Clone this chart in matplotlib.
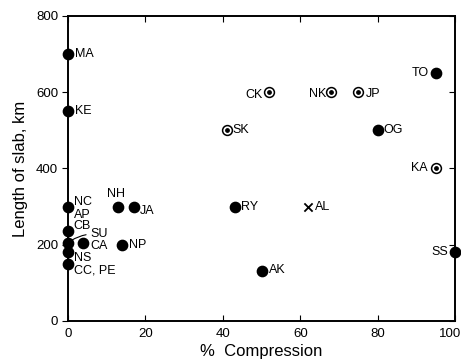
import matplotlib
matplotlib.use("Agg")
import matplotlib.pyplot as plt
from matplotlib.transforms import ScaledTranslation

# Filled circles
filled_names = ["MA", "KE", "NC", "CB", "SU", "NS", "CC, PE", "CA", "NH", "JA", "NP",
                "RY", "AK", "SS", "TO", "OG"]
filled_x = [0, 0, 0, 0, 0, 0, 0, 4, 13, 17, 14, 43, 50, 100, 95, 80]
filled_y = [700, 550, 300, 235, 205, 180, 150, 205, 300, 300, 200, 300, 130, 180, 650, 500]

# Circled-dot symbols
target_names = ["CK", "NK", "JP", "SK", "KA"]
target_x = [52, 68, 75, 41, 95]
target_y = [600, 600, 600, 500, 400]

# Cross symbol
cross_names = ["AL"]
cross_x = [62]
cross_y = [300]

x_ticks = [0, 20, 40, 60, 80, 100]
y_ticks = [0, 200, 400, 600, 800]

# label offsets (points) and alignment
offsets = {
    "MA": (5, 0, "left"), "KE": (5, 0, "left"), "NC": (4, 3, "left"),
    "CB": (4, 4, "left"), "NS": (4, -4, "left"), "CC, PE": (4, -5, "left"),
    "CA": (5, -2, "left"), "NH": (-2, 9, "center"), "JA": (4, -3, "left"),
    "NP": (5, 0, "left"), "RY": (5, 0, "left"), "AK": (5, 1, "left"),
    "SS": (-5, 0, "right"), "TO": (-5, 0, "right"), "OG": (4, 0, "left"),
    "CK": (-5, -2, "right"), "NK": (-4, -1, "right"), "JP": (5, -1, "left"),
    "SK": (4, 0, "left"), "KA": (-6, 0, "right"), "AL": (5, 0, "left"),
}

fig = plt.figure(figsize=(4.61, 3.61), dpi=100)
ax = fig.add_axes([0.1475, 0.111, 0.84, 0.845])
fs = 9
fam = "Liberation Sans"

ax.scatter(filled_x, filled_y, s=55, c="black", edgecolors="black", zorder=3, clip_on=False)
ax.scatter(target_x, target_y, s=50, facecolors="white", edgecolors="black", linewidths=1.1,
           zorder=3, clip_on=False)
ax.scatter(target_x, target_y, s=6, c="black", zorder=4, clip_on=False)
ax.scatter(cross_x, cross_y, s=35, marker="x", c="black", linewidths=1.3, zorder=3)

for names, xs, ys in [(filled_names, filled_x, filled_y), (target_names, target_x, target_y),
                      (cross_names, cross_x, cross_y)]:
    for n, x, y in zip(names, xs, ys):
        if n == "SU":
            continue
        dx, dy, ha = offsets[n]
        ax.annotate(n, (x, y), xytext=(dx, dy), textcoords="offset points", ha=ha,
                    va="center", fontsize=fs, family=fam, annotation_clip=False)

# extra labels with leader lines
ax.annotate("AP", (0, 300), xytext=(4, -6), textcoords="offset points", ha="left",
            va="center", fontsize=fs, family=fam, annotation_clip=False)
ax.annotate("SU", (0, 205), xytext=(16, 6), textcoords="offset points", ha="left",
            va="center", fontsize=fs, family=fam, annotation_clip=False,
            arrowprops=dict(arrowstyle="-", lw=0.8, color="black", shrinkA=1, shrinkB=3,
                            connectionstyle="arc3,rad=0.2"))

ax.set_xlim(0, 100)
ax.set_ylim(0, 800)
ax.set_xticks(x_ticks)
ax.set_yticks(y_ticks)
ax.tick_params(axis="x", direction="in", top=True, length=4, labelsize=9.5, pad=5)
ax.tick_params(axis="y", direction="out", length=4, labelsize=9.5, pad=3)
for lab in ax.get_xticklabels() + ax.get_yticklabels():
    lab.set_family(fam)
last = ax.get_xticklabels()[-1]
last.set_transform(last.get_transform() + ScaledTranslation(-4 / 72, 0, fig.dpi_scale_trans))
ax2 = ax.twinx()
ax2.set_ylim(0, 800)
ax2.set_yticks(y_ticks)
ax2.tick_params(axis="y", direction="in", length=4, labelright=False)
for a in (ax, ax2):
    for s in a.spines.values():
        s.set_linewidth(1.2)

ax.set_xlabel("%  Compression", fontsize=12, family=fam, labelpad=3)
ax.set_ylabel("Length of slab, km", fontsize=12, family=fam, labelpad=6)

fig.savefig("out.png", dpi=100)
